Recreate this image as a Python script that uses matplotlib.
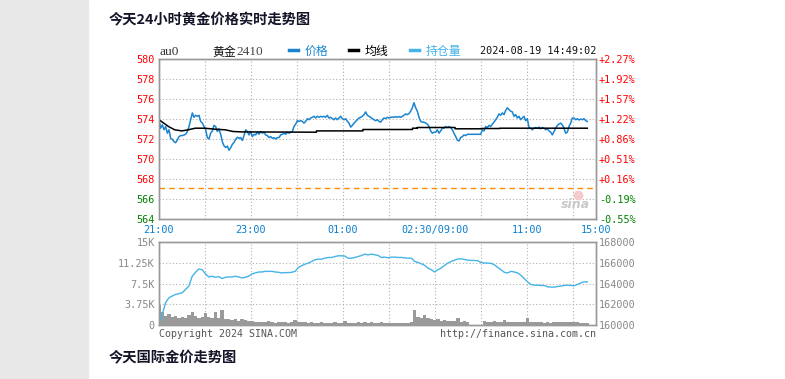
import numpy as np
import matplotlib.pyplot as plt
from matplotlib.lines import Line2D
from matplotlib.patches import Rectangle

plt.rcParams['font.family'] = ['DejaVu Sans Mono', 'Noto Sans CJK SC']

# 行情数据 (au0 黄金2410, 2024-08-19)
prev_close = 567.1
session_minutes = 555          # 21:00-02:30, 09:00-11:30, 13:30-15:00
last_minute = 544              # 14:49
grid_count = 9.5
time_labels = ['21:00', '23:00', '01:00', '02:30/09:00', '11:00', '15:00']
time_label_grid = [0, 2, 4, 6, 8, 9.5]

price = [
    573.93, 573.08, 573.42, 572.92, 573.25, 572.58, 572.92, 572.07, 571.97, 571.73,
    571.63, 571.90, 572.24, 572.34, 572.34, 572.41, 572.47, 572.75, 573.25, 573.93,
    574.61, 574.17, 574.37, 574.27, 574.37, 573.76, 573.59, 573.25, 572.92, 572.14,
    572.00, 572.58, 572.81, 573.36, 573.25, 572.75, 573.02, 572.47, 571.73, 571.32,
    571.15, 571.29, 570.88, 571.12, 571.46, 571.66, 571.97, 572.17, 572.07, 572.14,
    571.86, 572.34, 572.92, 572.75, 572.41, 572.75, 572.24, 572.47, 572.41, 572.68,
    572.47, 572.75, 572.58, 572.68, 572.41, 572.34, 572.14, 572.24, 572.07, 572.14,
    572.00, 572.14, 572.14, 572.41, 572.47, 572.58, 572.47, 572.68, 572.58, 572.68,
    572.75, 573.25, 573.49, 573.83, 573.76, 573.83, 573.76, 573.59,
    573.76, 574.03, 573.93, 574.10, 574.17, 574.27, 574.10, 574.27, 574.17, 574.27,
    574.20, 574.27, 574.17, 574.37, 574.10, 574.17, 574.03, 573.93, 574.10, 573.93,
    574.10, 574.27, 574.03, 573.93, 574.03, 573.76, 573.59, 573.19, 573.36, 573.59,
    573.76, 573.93, 574.10, 574.17, 574.27, 574.44, 574.71, 574.37, 574.27, 574.17,
    574.03, 573.93, 573.83, 573.93, 573.76, 573.69, 573.93, 574.10, 574.03, 574.17,
    574.10, 574.17, 574.20, 574.17, 574.24, 574.17, 574.24, 574.17, 574.27, 574.37,
    574.51, 574.44, 574.54, 574.78, 575.12, 575.63, 575.12, 574.78, 574.17, 573.76,
    573.69, 573.69, 573.59, 573.49, 573.25, 572.81, 572.58, 572.68, 572.68, 572.92,
    572.58, 572.81, 573.08, 573.08, 573.25, 573.15, 573.25,
    573.15, 572.92, 572.58, 572.24, 571.90, 571.80, 572.14, 572.24, 572.41, 572.34,
    572.47, 572.47, 572.47, 572.47, 572.47, 572.47, 572.47, 572.47, 572.47, 572.92,
    572.81, 573.25, 573.15, 573.36, 573.25, 573.49, 573.69, 573.93, 574.17, 574.51,
    574.37, 574.61, 574.44, 574.85, 575.12, 574.95, 574.78, 574.71, 574.27, 574.44,
    574.10, 574.27, 573.93, 574.10, 574.27, 573.83, 574.03, 573.15, 573.08, 572.92,
    573.08, 573.15, 573.08, 573.19, 573.02, 573.15, 573.08, 572.92, 573.02, 572.81,
    572.68, 572.41, 572.75, 573.08, 573.36, 573.49, 573.59, 573.42, 573.08, 572.58,
    572.68, 573.25, 573.59, 574.10, 574.10, 573.93, 574.03, 573.90, 574.00, 573.93,
    574.03, 573.83, 573.76,
]

avg_t = [0, 12, 20, 29, 37, 46, 58, 71, 84, 94, 105, 200, 200, 259, 259, 322, 322,
         328, 328, 376, 376, 409, 409, 433, 433, 544]
avg_p = [573.93, 573.25, 572.92, 572.81, 572.92, 573.08, 573.08, 572.98, 572.92, 572.75,
         572.71, 572.68, 572.81, 572.81, 572.95, 572.95, 573.08, 573.08, 573.15, 573.15,
         573.02, 573.02, 573.05, 573.05, 573.08, 573.08]

# 持仓量
oi = [
    160160, 161050, 162160, 162630, 162790, 162950, 163020, 163110, 163430, 163750,
    164700, 165080, 165400, 165330, 164920, 164630, 164700, 164600, 164670, 164480,
    164600, 164630, 164630, 164700, 164630, 164540, 164600, 164700, 164920, 165020,
    165110, 165110, 165170, 165170, 165170, 165110, 165080, 165020, 165050, 165050,
    165080, 165170, 165560, 165710, 165870, 165970, 166130, 166290, 166350, 166350,
    166440, 166510, 166510, 166600, 166670, 166670, 166640, 166440, 166440, 166510,
    166600, 166700, 166830, 166760,
    166830, 166760, 166700, 166510, 166540, 166480, 166540, 166540, 166510, 166510,
    166480, 166440, 166440, 166130, 166030, 165900, 165750, 165490, 165330, 165110,
    165330, 165490, 165750, 165970, 166130, 166250, 166350, 166380, 166320, 166250,
    166220, 166220, 166190, 166030, 165970, 165970, 165940, 165810, 165560, 165330,
    165080, 165020, 165170, 165110, 165020, 164790, 164480, 164160, 163900, 163840,
    163840, 163810, 163810, 163680, 163650, 163650, 163710, 163750, 163810, 163840,
    163810, 163780, 163900, 164060, 164160, 164160,
]

# 成交量 (千手)
vol_k = [
    3.7, 2.3, 1.6, 1.9, 1.4, 1.7, 1.2, 1.5, 1.3, 1.8, 2.4, 1.6, 1.2, 1.4, 2.1, 1.5,
    1.3, 2.3, 1.2, 2.8, 1.1, 1.0, 0.9, 1.0, 0.8, 1.1, 0.9, 0.7, 0.8, 0.6, 0.5, 0.6,
    0.5, 0.7, 0.5, 0.4, 0.5, 0.6, 0.5, 0.4, 0.5, 0.9, 0.6, 0.5, 0.6, 0.4, 0.5, 0.4,
    0.3, 0.5, 0.4, 0.3, 0.4, 0.5, 0.4, 0.3, 0.7, 0.4, 0.3, 0.4, 0.5, 0.4, 0.6, 0.4,
    0.5, 0.4, 0.3, 0.5, 0.4, 0.3, 0.4, 0.3, 0.4, 0.3, 0.4, 0.3, 0.5, 2.7, 1.5, 1.2,
    1.8, 1.3, 1.1, 0.9, 1.0, 0.8, 0.9, 0.7, 0.8, 0.7, 1.2, 0.6, 0.7, 0.5, 0.0, 0.0,
    0.0, 0.0, 0.7, 0.6, 0.5, 0.7, 0.6, 0.5, 0.9, 0.6, 0.5, 0.6, 0.5, 0.6, 0.5, 1.3,
    0.6, 0.5, 0.6, 0.5, 0.4, 0.5, 0.4, 0.6, 0.5, 0.6, 0.5, 0.6, 0.5, 0.6, 0.5, 0.4,
    0.4, 0.3,
]

price_ticks = list(range(564, 581, 2))
vol_ticks = [0, 3750, 7500, 11250, 15000]
vol_labels = ['0', '3.75K', '7.5K', '11.25K', '15K']
oi_ticks = [160000, 162000, 164000, 166000, 168000]

W, H = 785, 379
fig = plt.figure(figsize=(W / 100, H / 100), dpi=100)


def fx(px):
    return px / W


def fy(py):
    return 1 - py / H


fig.patches.append(Rectangle((0, 0), fx(88), 1, transform=fig.transFigure,
                             color='#e8e8e8', zorder=0))

spine_c = '#999999'
grid_c = '#b0b0b0'
blue = '#1a84cf'
light_blue = '#45b4e6'
red = '#ff0000'
green = '#008000'
step = session_minutes / grid_count

# ---- 价格面板
ax = fig.add_axes([fx(159), fy(219), fx(596) - fx(159), fy(59) - fy(219)])
t_price = np.linspace(0, last_minute, len(price))
ax.plot(t_price, price, color=blue, lw=1.1, zorder=3)
ax.plot(avg_t, avg_p, color='black', lw=1.1, zorder=4)
ax.axhline(prev_close, color='#ff8a00', lw=1.0, ls=(0, (4, 3)), zorder=2)
ax.set_xlim(0, session_minutes)
ax.set_ylim(564, 580)
for g in np.arange(1, 10):
    ax.axvline(g * step, color=grid_c, lw=0.8, ls=(0, (1, 2)), zorder=1)
for p in price_ticks[1:-1]:
    ax.axhline(p, color=grid_c, lw=0.8, ls=(0, (1, 2)), zorder=1)
ax.set_yticks(price_ticks)
ax.set_yticklabels([str(p) for p in price_ticks])
for lbl, p in zip(ax.get_yticklabels(), price_ticks):
    lbl.set_color(red if p > prev_close else green)
ax.set_xticks([g * step for g in time_label_grid])
ax.set_xticklabels(time_labels, color='#0a80d0')
ax.tick_params(length=0, labelsize=7.3, pad=3)
ax.tick_params(axis='x', pad=4)

axr = ax.twinx()
axr.set_ylim(564, 580)
axr.set_yticks(price_ticks)
axr.set_yticklabels(['%+.2f%%' % ((p / prev_close - 1) * 100) for p in price_ticks])
for lbl, p in zip(axr.get_yticklabels(), price_ticks):
    lbl.set_color(red if p > prev_close else green)
axr.tick_params(length=0, labelsize=7.3, pad=2)

for a in (ax, axr):
    for s in a.spines.values():
        s.set_color(spine_c)
        s.set_linewidth(1.0)

# ---- 成交量/持仓量面板
ax2 = fig.add_axes([fx(159), fy(325), fx(596) - fx(159), fy(242) - fy(325)])
t_vol = np.linspace(0, last_minute, len(vol_k))
ax2.bar(t_vol, np.array(vol_k) * 1000, width=(t_vol[1] - t_vol[0]),
        color='#9a9a9a', lw=0, zorder=2)
ax2.set_xlim(0, session_minutes)
ax2.set_ylim(0, 15000)
for g in np.arange(1, 10):
    ax2.axvline(g * step, color=grid_c, lw=0.8, ls=(0, (1, 2)), zorder=1)
for v in vol_ticks[1:-1]:
    ax2.axhline(v, color=grid_c, lw=0.8, ls=(0, (1, 2)), zorder=1)
ax2.set_xticks([])
ax2.set_yticks(vol_ticks)
ax2.set_yticklabels(vol_labels, color='#888888')
ax2.tick_params(length=0, labelsize=7.3, pad=3)

ax2r = ax2.twinx()
t_oi = np.linspace(0, last_minute, len(oi))
ax2r.plot(t_oi, oi, color=light_blue, lw=1.0)
ax2r.set_ylim(160000, 168000)
ax2r.set_yticks(oi_ticks)
ax2r.set_yticklabels([str(v) for v in oi_ticks], color='#888888')
ax2r.tick_params(length=0, labelsize=7.3, pad=2)

for a in (ax2, ax2r):
    for s in a.spines.values():
        s.set_color(spine_c)
        s.set_linewidth(1.0)

# ---- 图头
cjk = ['Noto Sans CJK SC', 'DejaVu Sans']
fig.text(fx(109), fy(20), '今天24小时黄金价格实时走势图', fontsize=10.3,
         fontweight='bold', family=cjk, va='center', color='#15152a')
fig.text(fx(109), fy(358), '今天国际金价走势图', fontsize=10.3,
         fontweight='bold', family=cjk, va='center', color='#15152a')

fig.text(fx(160), fy(52), 'au0', fontsize=9.5, family=['Liberation Serif'],
         va='center', color='#333333')
fig.text(fx(212), fy(52), '黄金', fontsize=8.6, family=cjk, va='center', color='#111111')
fig.text(fx(236), fy(52), '2410', fontsize=9.5, family=['Liberation Serif'],
         va='center', color='#444444')

legend_items = [('价格', blue, 289), ('均线', 'black', 349), ('持仓量', light_blue, 410)]
for name, c, x0 in legend_items:
    fig.add_artist(Line2D([fx(x0), fx(x0 + 9)], [fy(50), fy(50)], color=c, lw=2.5,
                          transform=fig.transFigure))
    fig.text(fx(x0 + 16), fy(51), name, fontsize=8.6, family=cjk, va='center', color=c)

fig.text(fx(596), fy(51), '2024-08-19 14:49:02', fontsize=7.3, ha='right',
         va='center', color='#111111')

# 水印
fig.text(fx(575), fy(205), 'sina', fontsize=9, fontstyle='italic', fontweight='bold',
         family=['DejaVu Sans'], ha='center', va='center', color='#c8c8c8')
fig.add_artist(Line2D([fx(578)], [fy(195)], marker='o', markersize=6,
                      color='#f4caca', transform=fig.transFigure))

# 页脚
fig.text(fx(159), fy(334), 'Copyright 2024 SINA.COM', fontsize=7.2, va='center',
         color='#555555')
fig.text(fx(596), fy(334), 'http://finance.sina.com.cn', fontsize=7.2, ha='right',
         va='center', color='#555555')

fig.savefig('out.png', dpi=100)
